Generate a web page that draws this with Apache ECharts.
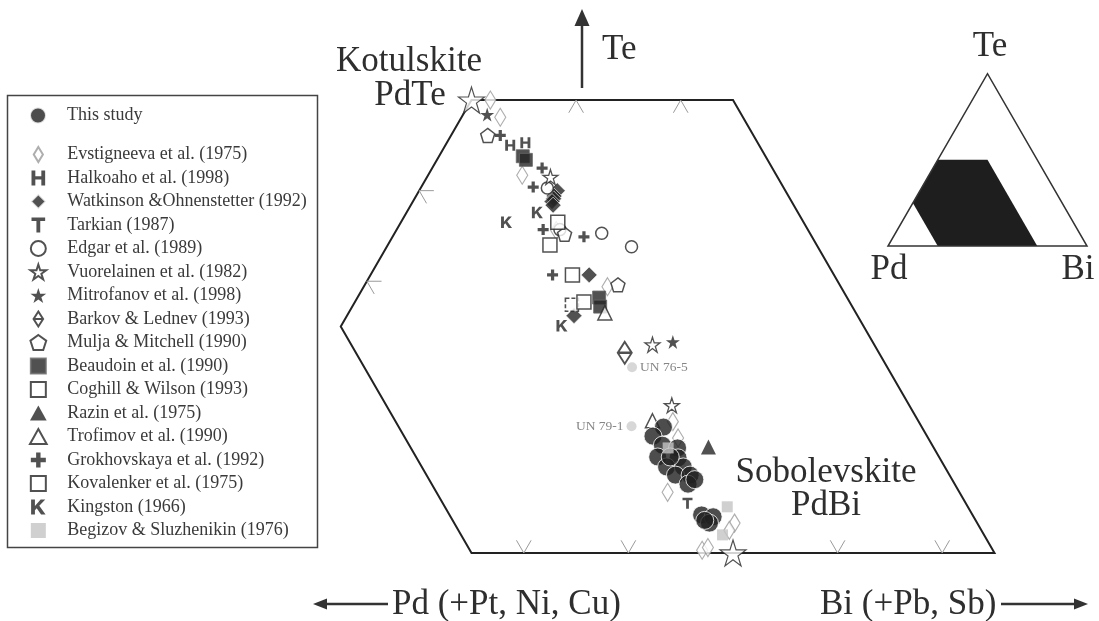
<!DOCTYPE html>
<html>
<head>
<meta charset="utf-8">
<title>Kotulskite - sobolevskite compositions</title>
<script src="https://cdn.jsdelivr.net/npm/echarts@6.0.0/dist/echarts.min.js"></script>
<style>
  html, body { margin: 0; padding: 0; background: #fff; }
  #chart { width: 1099px; height: 621px; }
</style>
</head>
<body>
<div id="chart"></div>
<script>
// Compositions in at.% as [Te, Bi]; Pd (+Pt, Ni, Cu) is the remainder.
const thisStudy = [
  [13.9, 36.4], [12.9, 35.9], [11.9, 37.3], [11.6, 38.9], [10.6, 37.5], [10.5, 39.5],
  [9.5, 38.9], [9.5, 40.5], [8.6, 40.2], [8.6, 41.6], [7.6, 41.9], [8.1, 42.3],
  [4.2, 44.9], [4.0, 46.1], [3.3, 46.1], [3.6, 45.5], [10.6, 38.7]
];
const evstigneeva = [
  [50.0, 1.8], [48.1, 3.7], [41.7, 9.0], [35.6, 15.3], [29.4, 23.3], [14.5, 37.0],
  [12.7, 38.4], [6.7, 40.4], [3.3, 48.5], [2.5, 48.4], [0.3, 46.9], [0.6, 47.3]
];
const halkoaho = [[45.0, 6.2], [45.3, 7.5]];
const watkinson = [[40.0, 13.2], [39.4, 13.2], [39.1, 13.3], [38.8, 13.3], [38.4, 13.6], [30.7, 20.9], [26.2, 21.7]];
const tarkian = [[5.5, 42.9]];
const edgar = [[40.3, 12.1], [35.7, 15.6], [35.3, 19.8], [33.8, 23.4]];
const vuorelainen = [[41.5, 11.8], [23.0, 30.8], [16.3, 36.0]];
const mitrofanov = [[48.4, 2.3], [23.3, 32.6]];
const barkov = [[22.1, 28.6]];
const mulja = [[46.1, 3.5], [29.6, 24.2], [35.2, 16.3]];
const beaudoin = [[43.8, 8.0], [43.4, 8.5], [28.2, 23.1], [27.2, 23.7]];
const coghill = [[27.4, 20.9]];
const razin = [[11.7, 41.8]];
const trofimov = [[26.5, 24.5], [14.6, 35.0]];
const grokhovskaya = [[46.1, 4.7], [42.5, 10.5], [40.4, 10.7], [35.7, 14.0], [34.9, 18.3], [30.7, 17.4]];
const kovalenker = [[36.5, 15.0], [34.0, 15.5], [30.7, 19.3], [27.7, 21.9]];
const kingston = [[36.5, 10.1], [37.6, 12.5], [25.1, 21.1]];
const begizov = [[11.6, 38.0], [5.1, 46.9], [2.0, 48.0]];

// Ideal end members: kotulskite PdTe and sobolevskite PdBi
const endMembers = [[50, 0], [0, 50]];

// Grey analyses labelled by sample
const unNames = ['UN 76-5', 'UN 79-1'];
const unTe = [20.5, 14.0];
const unBi = [30.1, 33.3];

// Field outline: 25 <= Pd <= 75, Te <= 50
const frameTe = [50, 50, 0, 0, 25];
const frameBi = [0, 25, 75, 25, 0];

// Tick marks
const topTicksBi = [10, 20];          // on Te = 50
const bottomTicksBi = [30, 40, 60, 70]; // on Te = 0
const leftTicksTe = [30, 40];          // on Bi = 0

// ternary (Te, Bi in %) -> cartesian, Pd corner at origin, side = 1
function tern(te, bi) {
  return [(bi + te / 2) / 100, (te * Math.sqrt(3) / 2) / 100];
}

const W = 1099, H = 621, S = 1046, OX = 210, OY = 553;
const DARK = '#262626';
const SERIF = '"Liberation Serif", "Times New Roman", serif';

const SYM = {
  diamondTall: 'path://M5.5,0L11,9L5.5,18L0,9Z',
  diamond: 'path://M8,0L16,8L8,16L0,8Z',
  star: 'path://M50,0L61.2,34.5L97.6,34.5L68.2,55.9L79.4,90.5L50,69.1L20.6,90.5L31.8,55.9L2.4,34.5L38.8,34.5Z',
  pentagon: 'path://M50,0L97.6,34.5L79.4,90.5L20.6,90.5L2.4,34.5Z',
  square: 'path://M0,0H10V10H0Z',
  triangle: 'path://M5,0L10,9L0,9Z',
  plus: 'path://M3.6,0H6.6V3.6H10.2V6.6H6.6V10.2H3.6V6.6H0V3.6H3.6Z',
  H: 'path://M0,0H2.8V4.3H7.2V0H10V11H7.2V6.6H2.8V11H0Z',
  T: 'path://M0,0H10V2.5H6.4V11H3.6V2.5H0Z',
  K: 'path://M0,0H2.8V4.8L7,0H10.4L6,4.6L10.6,11H7.3L4.1,6.4L2.8,7.8V11H0Z',
  barkov: 'path://M7,0L14,11L7,22L0,11ZM0,11H14'
};

const hollow = (c, w) => ({ color: '#fff', borderColor: c, borderWidth: w });
const solid = (c) => ({ color: c });

function scatter(name, list, symbol, size, itemStyle, extra) {
  return Object.assign({
    name: name,
    type: 'scatter',
    xAxisIndex: 0,
    yAxisIndex: 0,
    symbol: symbol,
    symbolSize: size,
    itemStyle: itemStyle,
    data: list.map(([te, bi]) => tern(te, bi))
  }, extra || {});
}

function frameItem(params, api) {
  const c = (te, bi) => api.coord(tern(te, bi));
  const tick = { stroke: '#9a9a9a', lineWidth: 1, fill: 'none' };
  const d = 1.4;
  const children = [{
    type: 'polygon',
    shape: { points: frameTe.map((te, i) => c(te, frameBi[i])) },
    style: { fill: 'none', stroke: '#222', lineWidth: 2 }
  }];
  topTicksBi.forEach(b => children.push({
    type: 'polyline', shape: { points: [c(50 - d, b), c(50, b), c(50 - d, b + d)] }, style: tick
  }));
  bottomTicksBi.forEach(b => children.push({
    type: 'polyline', shape: { points: [c(d, b - d), c(0, b), c(d, b)] }, style: tick
  }));
  leftTicksTe.forEach(t => children.push({
    type: 'polyline', shape: { points: [c(t, d), c(t, 0), c(t - d, d)] }, style: tick
  }));
  return { type: 'group', children: children };
}

function insetItem(params, api) {
  const c = (te, bi) => api.coord(tern(te, bi));
  return {
    type: 'group',
    children: [{
      type: 'polygon',
      shape: { points: frameTe.map((te, i) => c(te, frameBi[i])) },
      style: { fill: '#1e1e1e' }
    }, {
      type: 'polygon',
      shape: { points: [c(0, 0), c(0, 100), c(100, 0)] },
      style: { fill: 'none', stroke: '#333', lineWidth: 1.5 }
    }]
  };
}

function text(str, x, y, align, size, color) {
  return {
    type: 'text',
    style: {
      text: str, x: x, y: y, align: align || 'center', verticalAlign: 'middle',
      font: (size || 35) + 'px ' + SERIF, fill: color || '#2e2e2e'
    }
  };
}

const legendNames = [
  'Evstigneeva et al. (1975)', 'Halkoaho et al. (1998)', 'Watkinson &Ohnenstetter (1992)',
  'Tarkian (1987)', 'Edgar et al. (1989)', 'Vuorelainen et al. (1982)', 'Mitrofanov et al. (1998)',
  'Barkov & Lednev (1993)', 'Mulja & Mitchell (1990)', 'Beaudoin et al. (1990)',
  'Coghill & Wilson (1993)', 'Razin et al. (1975)', 'Trofimov et al. (1990)',
  'Grokhovskaya et al. (1992)', 'Kovalenker et al. (1975)', 'Kingston (1966)',
  'Begizov & Sluzhenikin (1976)'
];

const legendText = { fontFamily: SERIF, fontSize: 18, color: '#3a3a3a' };

const option = {
  animation: false,
  backgroundColor: '#fff',
  grid: [
    { left: 0, top: 0, width: W, height: H },
    { left: 888, top: 246 - 199 * Math.sqrt(3) / 2, width: 199, height: 199 * Math.sqrt(3) / 2 }
  ],
  xAxis: [
    { type: 'value', gridIndex: 0, min: -OX / S, max: (W - OX) / S, show: false },
    { type: 'value', gridIndex: 1, min: 0, max: 1, show: false }
  ],
  yAxis: [
    { type: 'value', gridIndex: 0, min: -(H - OY) / S, max: OY / S, show: false },
    { type: 'value', gridIndex: 1, min: 0, max: Math.sqrt(3) / 2, show: false }
  ],
  legend: [{
    data: ['This study'],
    left: 29, top: 106.5, padding: 0,
    itemWidth: 48, itemHeight: 16,
    selectedMode: false,
    textStyle: legendText
  }, {
    data: legendNames,
    orient: 'vertical',
    left: 29, top: 145.5, padding: 0,
    itemWidth: 48, itemHeight: 15, itemGap: 5.5,
    selectedMode: false,
    textStyle: legendText
  }],
  graphic: [
    { type: 'rect', shape: { x: 7.5, y: 95.5, width: 310, height: 452 },
      style: { fill: 'none', stroke: '#444', lineWidth: 1.5 } },
    // Te arrow
    { type: 'line', shape: { x1: 582, y1: 88, x2: 582, y2: 24 }, style: { stroke: '#333', lineWidth: 2.5 } },
    { type: 'polygon', shape: { points: [[582, 9], [574.5, 26], [589.5, 26]] }, style: { fill: '#333' } },
    text('Te', 602, 50, 'left'),
    text('Kotulskite', 409, 62),
    text('PdTe', 410, 96),
    text('Sobolevskite', 826, 473),
    text('PdBi', 826, 506),
    // inset labels
    text('Te', 990, 47),
    text('Pd', 889, 270),
    text('Bi', 1078, 270),
    // bottom arrows
    { type: 'line', shape: { x1: 388, y1: 604, x2: 325, y2: 604 }, style: { stroke: '#333', lineWidth: 2.5 } },
    { type: 'polygon', shape: { points: [[313, 604], [327, 598.5], [327, 609.5]] }, style: { fill: '#333' } },
    text('Pd (+Pt, Ni, Cu)', 392, 605, 'left'),
    text('Bi (+Pb, Sb)', 820, 605, 'left'),
    { type: 'line', shape: { x1: 1001, y1: 604, x2: 1076, y2: 604 }, style: { stroke: '#333', lineWidth: 2.5 } },
    { type: 'polygon', shape: { points: [[1088, 604], [1074, 598.5], [1074, 609.5]] }, style: { fill: '#333' } }
  ],
  series: [
    {
      type: 'custom', name: 'frame', xAxisIndex: 0, yAxisIndex: 0,
      silent: true, clip: false, data: [[0, 0]], renderItem: frameItem
    },
    {
      type: 'custom', name: 'inset', xAxisIndex: 1, yAxisIndex: 1,
      silent: true, clip: false, data: [[0, 0]], renderItem: insetItem
    },
    scatter('Evstigneeva et al. (1975)', evstigneeva, SYM.diamondTall, [11, 18], hollow('#9a9a9a', 1.2)),
    scatter('Halkoaho et al. (1998)', halkoaho, SYM.H, [10, 11], solid(DARK)),
    scatter('Watkinson &Ohnenstetter (1992)', watkinson, SYM.diamond, [16, 16],
      { color: DARK, borderColor: '#fff', borderWidth: 0.8 }),
    scatter('Tarkian (1987)', tarkian, SYM.T, [10, 11], solid(DARK)),
    scatter('Edgar et al. (1989)', edgar, 'circle', 12, hollow(DARK, 1.5)),
    scatter('Vuorelainen et al. (1982)', vuorelainen, SYM.star, 15, hollow(DARK, 1.3)),
    scatter('Mitrofanov et al. (1998)', mitrofanov, SYM.star, 14, solid(DARK)),
    scatter('Barkov & Lednev (1993)', barkov, SYM.barkov, [14, 22], hollow(DARK, 2)),
    scatter('Mulja & Mitchell (1990)', mulja, SYM.pentagon, 14, hollow(DARK, 1.5)),
    scatter('Beaudoin et al. (1990)', beaudoin, SYM.square, 13,
      { color: DARK, borderColor: '#666', borderWidth: 1 }),
    scatter('Coghill & Wilson (1993)', coghill, SYM.square, 13,
      { color: '#fff', borderColor: DARK, borderWidth: 1.6, borderType: [4, 2] }),
    scatter('Razin et al. (1975)', razin, SYM.triangle, 15, solid(DARK)),
    scatter('Trofimov et al. (1990)', trofimov, SYM.triangle, 14, hollow(DARK, 1.5)),
    scatter('Grokhovskaya et al. (1992)', grokhovskaya, SYM.plus, 11, solid(DARK)),
    scatter('Kovalenker et al. (1975)', kovalenker, SYM.square, 14, hollow(DARK, 1.5)),
    scatter('Kingston (1966)', kingston, SYM.K, [11, 11.5], solid(DARK)),
    scatter('This study', thisStudy, 'circle', 18, { color: '#202020', borderColor: '#fff', borderWidth: 1 }),
    scatter('Begizov & Sluzhenikin (1976)', begizov, SYM.square, 11, solid('#c4c4c4')),
    {
      name: 'UN samples', type: 'scatter', xAxisIndex: 0, yAxisIndex: 0,
      symbol: 'circle', symbolSize: 10, itemStyle: { color: '#cdcdcd' },
      label: {
        show: true, formatter: '{b}', distance: 3,
        fontFamily: SERIF, fontSize: 13.5, color: '#666'
      },
      data: unNames.map((n, i) => ({
        name: n, value: tern(unTe[i], unBi[i]),
        label: { position: i === 0 ? 'right' : 'left' }
      }))
    },
    scatter('end members', endMembers, SYM.star, 26, hollow(DARK, 1.2))
  ]
};

const chart = echarts.init(document.getElementById('chart'));
chart.setOption(option);
</script>
</body>
</html>
